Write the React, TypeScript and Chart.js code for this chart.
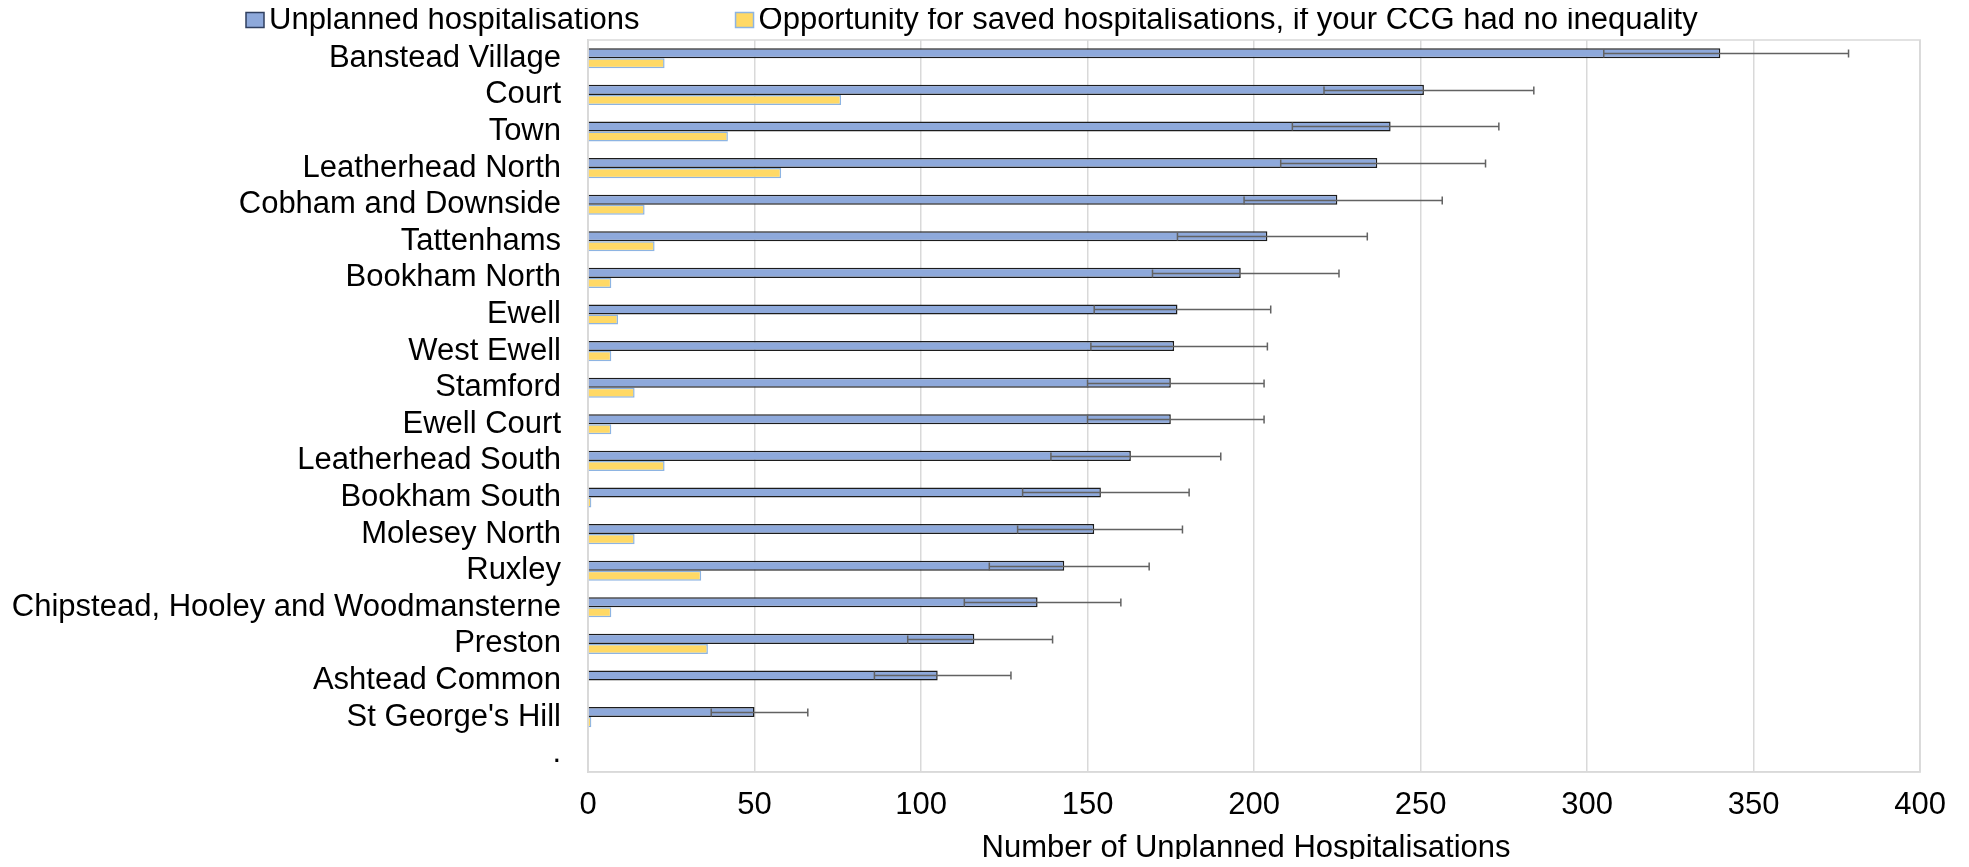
import React, { useEffect, useRef } from "react";
import { Chart, registerables } from "chart.js";

Chart.register(...registerables);

const categories = [
  "Banstead Village",
  "Court",
  "Town",
  "Leatherhead North",
  "Cobham and Downside",
  "Tattenhams",
  "Bookham North",
  "Ewell",
  "West Ewell",
  "Stamford",
  "Ewell Court",
  "Leatherhead South",
  "Bookham South",
  "Molesey North",
  "Ruxley",
  "Chipstead, Hooley and Woodmansterne",
  "Preston",
  "Ashtead Common",
  "St George's Hill",
  ".",
];

const unplanned = [340, 251, 241, 237, 225, 204, 196, 177, 176, 175, 175, 163, 154, 152, 143, 135, 116, 105, 50, null];
const unplannedLow = [305, 221, 211.5, 208, 197, 177, 169.5, 152, 151, 150, 150, 139, 130.5, 129, 120.5, 113, 96, 86, 37, null];
const unplannedHigh = [378.5, 284, 273.5, 269.5, 256.5, 234, 225.5, 205, 204, 203, 203, 190, 180.5, 178.5, 168.5, 160, 139.5, 127, 66, null];
const opportunity = [23, 76, 42, 58, 17, 20, 7, 9, 7, 14, 7, 23, 1, 14, 34, 7, 36, 0.3, 1, null];

const seriesNames = [
  "Unplanned hospitalisations",
  "Opportunity for saved hospitalisations, if your CCG had no inequality",
];
const xAxisTitle = "Number of Unplanned Hospitalisations";
const xMin = 0;
const xMax = 400;
const xStep = 50;

const FONT_FAMILY = '"Liberation Sans", Arial, Helvetica, sans-serif';
const FONT_SIZE = 31;
const BLUE = "#8EA9DB";
const BLUE_BORDER = "#1c1c1c";
const YELLOW = "#FFD966";
const YELLOW_BORDER = "#8DB4E2";
const GRID = "#d9d9d9";

const W = 1953;
const H = 859;

const framePlugin = {
  id: "frame",
  beforeDatasetsDraw(chart: any) {
    const { ctx, chartArea } = chart;
    ctx.save();
    ctx.strokeStyle = GRID;
    ctx.lineWidth = 1.5;
    ctx.strokeRect(chartArea.left, chartArea.top, chartArea.right - chartArea.left, chartArea.bottom - chartArea.top);
    ctx.restore();
  },
};

const errorBarPlugin = {
  id: "errorBars",
  afterDatasetsDraw(chart: any) {
    const { ctx } = chart;
    const xs = chart.scales.x;
    const meta = chart.getDatasetMeta(0);
    ctx.save();
    ctx.strokeStyle = "#626262";
    ctx.lineWidth = 1.5;
    meta.data.forEach((bar: any, i: number) => {
      const lo = unplannedLow[i];
      const hi = unplannedHigh[i];
      if (lo == null || hi == null) return;
      const y = Math.round(bar.y) + 0.5;
      const x1 = xs.getPixelForValue(lo);
      const x2 = xs.getPixelForValue(hi);
      ctx.beginPath();
      ctx.moveTo(x1, y);
      ctx.lineTo(x2, y);
      ctx.moveTo(x1, y - 4);
      ctx.lineTo(x1, y + 4);
      ctx.moveTo(x2, y - 4);
      ctx.lineTo(x2, y + 4);
      ctx.stroke();
    });
    ctx.restore();
  },
};

const legendAndTitlePlugin = {
  id: "legendAndTitle",
  afterDraw(chart: any) {
    const { ctx, chartArea } = chart;
    ctx.save();
    ctx.font = `${FONT_SIZE}px ${FONT_FAMILY}`;
    ctx.fillStyle = "#000";
    ctx.textBaseline = "middle";
    ctx.textAlign = "left";
    const boxW = 18;
    const boxH = 15;
    const cy = 12;
    const gapText = 5;
    const gapItems = 96;
    const fills = [BLUE, YELLOW];
    const strokes = ["#2f3f5f", YELLOW_BORDER];
    let x = 238;
    seriesNames.forEach((name, i) => {
      ctx.fillStyle = fills[i];
      ctx.fillRect(x, cy - boxH / 2, boxW, boxH);
      ctx.strokeStyle = strokes[i];
      ctx.lineWidth = 1.5;
      ctx.strokeRect(x, cy - boxH / 2, boxW, boxH);
      ctx.fillStyle = "#000";
      const tx = x + boxW + gapText;
      ctx.fillText(name, tx, cy);
      x = tx + ctx.measureText(name).width + gapItems;
    });
    // x-axis title
    ctx.textAlign = "center";
    ctx.textBaseline = "alphabetic";
    ctx.fillText(xAxisTitle, (chartArea.left + chartArea.right) / 2 - 8, chartArea.bottom + 85);
    ctx.restore();
  },
};

export default function App() {
  const canvasRef = useRef<HTMLCanvasElement | null>(null);

  useEffect(() => {
    const canvas = canvasRef.current;
    if (!canvas) return;
    const chart = new Chart(canvas, {
      type: "bar",
      data: {
        labels: categories,
        datasets: [
          {
            label: seriesNames[0],
            data: unplanned,
            backgroundColor: BLUE,
            borderColor: BLUE_BORDER,
            borderWidth: 1.5,
            categoryPercentage: 0.55,
            barPercentage: 1.0,
          },
          {
            label: seriesNames[1],
            data: opportunity,
            backgroundColor: YELLOW,
            borderColor: YELLOW_BORDER,
            borderWidth: 1.5,
            categoryPercentage: 0.55,
            barPercentage: 1.0,
          },
        ],
      },
      options: {
        indexAxis: "y",
        responsive: false,
        maintainAspectRatio: false,
        animation: false,
        devicePixelRatio: 1,
        layout: { padding: { top: 32, right: 38, left: 0, bottom: 0 } },
        plugins: {
          legend: { display: false },
          tooltip: { enabled: false },
        },
        scales: {
          x: {
            type: "linear",
            min: xMin,
            max: xMax,
            ticks: {
              stepSize: xStep,
              color: "#000",
              padding: 15,
              font: { size: FONT_SIZE, family: FONT_FAMILY },
            },
            grid: { color: GRID, lineWidth: 1.5, drawTicks: false },
            border: { color: GRID, width: 1.5 },
            afterFit: (s: any) => {
              s.height = 95;
            },
          },
          y: {
            type: "category",
            grid: { display: false, drawTicks: false },
            border: { color: GRID, width: 1.5 },
            ticks: {
              color: "#000",
              padding: 27,
              autoSkip: false,
              font: { size: FONT_SIZE, family: FONT_FAMILY },
            },
            afterFit: (s: any) => {
              s.width = 580;
              s.paddingTop = 0;
              s.paddingBottom = 0;
            },
          },
        },
      } as any,
      plugins: [framePlugin, errorBarPlugin, legendAndTitlePlugin],
    });
    return () => chart.destroy();
  }, []);

  return (
    <div style={{ width: W, height: H, marginBottom: -8 }}>
      <canvas ref={canvasRef} width={W} height={H} style={{ display: "block", width: W, height: H }} />
    </div>
  );
}
